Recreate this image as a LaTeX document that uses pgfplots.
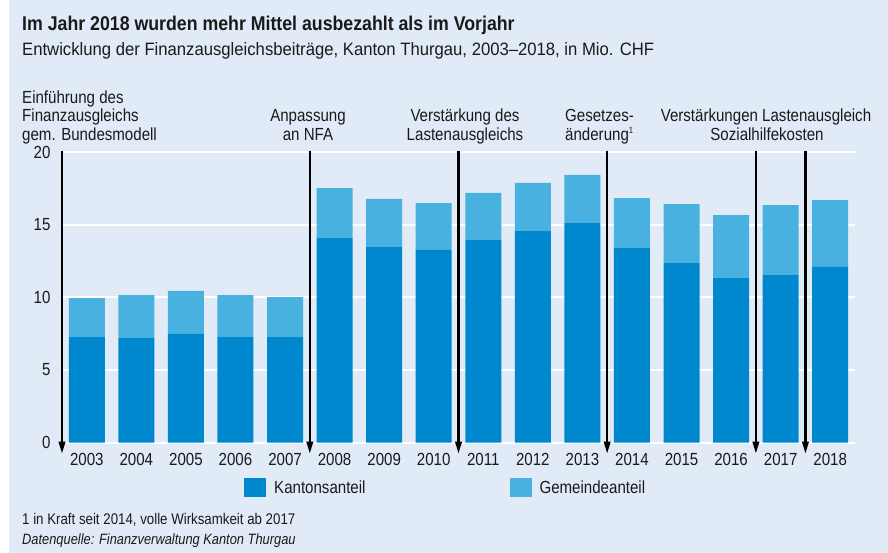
\documentclass[border=0pt]{standalone}
\usepackage{fontspec}
\setmainfont{Liberation Sans}[FakeStretch=0.86]
\newfontfamily\titlefont{Liberation Sans}[FakeStretch=0.89]
\newfontfamily\subfont{Liberation Sans}[FakeStretch=0.93]
\usepackage{pgfplots}
\pgfplotsset{compat=1.18}
\usetikzlibrary{arrows.meta}
\definecolor{bg}{HTML}{E1EBF7}
\definecolor{kanton}{HTML}{0088CE}
\definecolor{gemeinde}{HTML}{48B1DF}
\definecolor{txt}{HTML}{1A1A1A}
\pgfplotstableread{
x K G
0 7.27 2.68
1 7.20 2.96
2 7.48 2.96
3 7.27 2.89
4 7.27 2.75
5 14.08 3.44
6 13.46 3.31
7 13.26 3.23
8 13.94 3.24
9 14.56 3.31
10 15.11 3.31
11 13.39 3.44
12 12.36 4.06
13 11.33 4.33
14 11.53 4.82
15 12.09 4.60
}\data
\newcommand{\fs}{\fontsize{17.6}{20}\selectfont}
\begin{document}
\begin{tikzpicture}
\fill[white] (0,0) rectangle (888bp,-553bp);
\fill[bg] (9bp,0) rectangle (888bp,-553bp);
\useasboundingbox (0,0) rectangle (888bp,-553bp);
\begin{axis}[
  at={(62bp,-442.7bp)}, anchor=south west,
  scale only axis, width=793bp, height=290.7bp,
  ybar stacked, bar width=36bp,
  xmin=-0.5, xmax=15.5, ymin=0, ymax=20,
  xtick={0,...,15},
  xticklabels={2003,2004,2005,2006,2007,2008,2009,2010,2011,2012,2013,2014,2015,2016,2017,2018},
  ytick={0,5,10,15,20},
  ymajorgrids, grid style={white, line width=2.2bp},
  axis line style={draw=none}, major tick length=0pt,
  tick label style={font=\fs, text=txt},
  /pgf/number format/assume math mode=true,
  xticklabel shift=7.5bp, yticklabel shift=8bp,
  clip=false,
  legend columns=2,
  legend style={draw=none, fill=none, inner sep=0pt, anchor=west,
    at={(0.2295,-0.1558)}, font=\fs, text=txt,
    /tikz/every even column/.append style={column sep=142bp}},
  legend image code/.code={\fill[#1] (0bp,-9.5bp) rectangle (22bp,9.5bp); \path (28bp,0bp);},
]
\addplot[fill=kanton, draw=none] table[x=x,y=K] {\data};
\addplot[fill=gemeinde, draw=none] table[x=x,y=G] {\data};
\legend{Kantonsanteil,Gemeindeanteil}
\foreach \xa in {-0.5,4.5,7.5,10.5,13.5,14.5}{
  \edef\tmp{\noexpand\draw[line width=2.2bp, black, -{Triangle[width=6.5bp,length=12bp]}] (axis cs:\xa,20.1) -- (axis cs:\xa,-0.75);}
  \tmp
}
\end{axis}
\begin{scope}[every node/.style={inner sep=0pt, text=txt, font=\fs}]
\node[anchor=base west, font=\titlefont\bfseries\fontsize{20}{22}\selectfont] at (22bp,-30bp) {Im Jahr 2018 wurden mehr Mittel ausbezahlt als im Vorjahr};
\node[anchor=base west, font=\subfont\fontsize{18}{20}\selectfont] at (22bp,-55bp) {Entwicklung der Finanzausgleichsbeiträge, Kanton Thurgau, 2003–2018, in Mio. CHF};
\node[anchor=base west] at (22bp,-103bp) {Einführung des};
\node[anchor=base west] at (22bp,-121.5bp) {Finanzausgleichs};
\node[anchor=base west] at (22bp,-140bp) {gem. Bundesmodell};
\node[anchor=base] at (308bp,-121.5bp) {Anpassung};
\node[anchor=base] at (308bp,-140bp) {an NFA};
\node[anchor=base] at (465bp,-121.5bp) {Verstärkung des};
\node[anchor=base] at (465bp,-140bp) {Lastenausgleichs};
\node[anchor=base west] at (565bp,-121.5bp) {Gesetzes-};
\node[anchor=base west] at (565bp,-140bp) {änderung\textsuperscript{\fontsize{9}{10}\selectfont 1}};
\node[anchor=base] at (766bp,-121.5bp) {Verstärkungen Lastenausgleich};
\node[anchor=base] at (767bp,-140bp) {Sozialhilfekosten};
\node[anchor=base west, font=\fontsize{15.5}{17}\selectfont] at (22bp,-524bp) {1 in Kraft seit 2014, volle Wirksamkeit ab 2017};
\node[anchor=base west, font=\itshape\fontsize{15}{17}\selectfont] at (22bp,-544bp) {Datenquelle: Finanzverwaltung Kanton Thurgau};
\end{scope}
\end{tikzpicture}
\end{document}
